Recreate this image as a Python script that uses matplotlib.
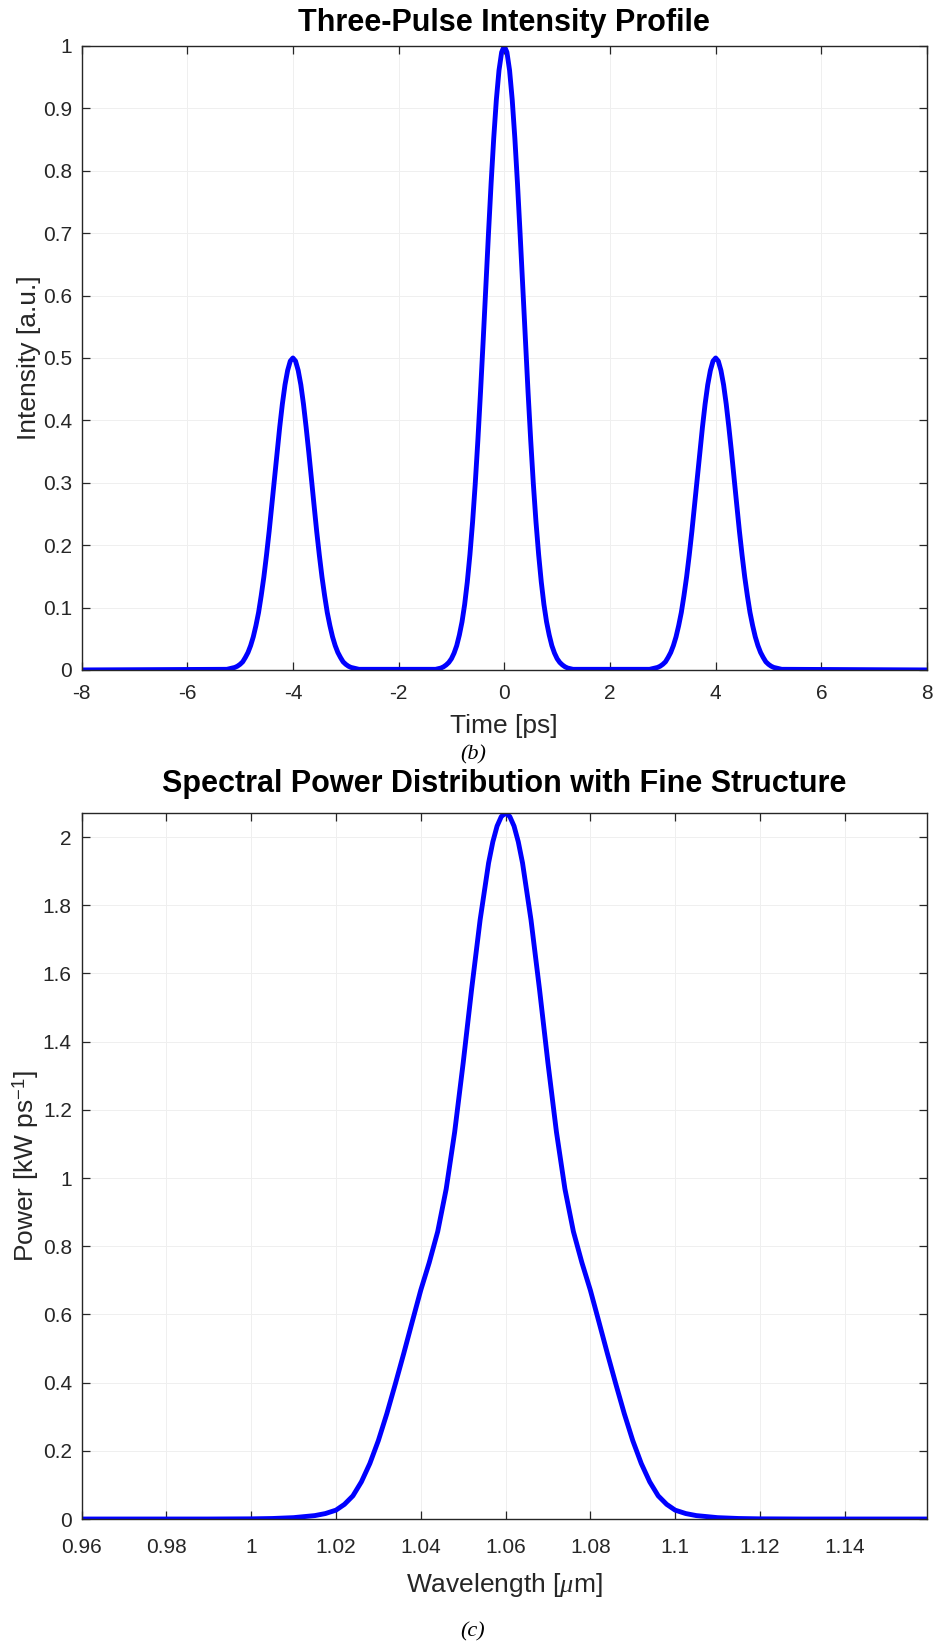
import matplotlib
matplotlib.use("Agg")
import matplotlib.pyplot as plt
from matplotlib.ticker import FuncFormatter

# three-pulse intensity (0.05 ps spacing around each pulse)
time_ps = [-8.0,
           -5.3, -5.25, -5.2, -5.15, -5.1, -5.05, -5.0, -4.95, -4.9, -4.85, -4.8, -4.75, -4.7,
           -4.65, -4.6, -4.55, -4.5, -4.45, -4.4, -4.35, -4.3, -4.25, -4.2, -4.15, -4.1, -4.05,
           -4.0,
           -3.95, -3.9, -3.85, -3.8, -3.75, -3.7, -3.65, -3.6, -3.55, -3.5, -3.45, -3.4, -3.35,
           -3.3, -3.25, -3.2, -3.15, -3.1, -3.05, -3.0, -2.95, -2.9, -2.85, -2.8, -2.75, -2.7,
           -1.3, -1.25, -1.2, -1.15, -1.1, -1.05, -1.0, -0.95, -0.9, -0.85, -0.8, -0.75, -0.7,
           -0.65, -0.6, -0.55, -0.5, -0.45, -0.4, -0.35, -0.3, -0.25, -0.2, -0.15, -0.1, -0.05,
           0.0,
           0.05, 0.1, 0.15, 0.2, 0.25, 0.3, 0.35, 0.4, 0.45, 0.5, 0.55, 0.6, 0.65,
           0.7, 0.75, 0.8, 0.85, 0.9, 0.95, 1.0, 1.05, 1.1, 1.15, 1.2, 1.25, 1.3,
           2.7, 2.75, 2.8, 2.85, 2.9, 2.95, 3.0, 3.05, 3.1, 3.15, 3.2, 3.25, 3.3,
           3.35, 3.4, 3.45, 3.5, 3.55, 3.6, 3.65, 3.7, 3.75, 3.8, 3.85, 3.9, 3.95,
           4.0,
           4.05, 4.1, 4.15, 4.2, 4.25, 4.3, 4.35, 4.4, 4.45, 4.5, 4.55, 4.6, 4.65,
           4.7, 4.75, 4.8, 4.85, 4.9, 4.95, 5.0, 5.05, 5.1, 5.15, 5.2, 5.25, 5.3,
           8.0]
intensity = [0.0,
             0.001, 0.001, 0.002, 0.003, 0.004, 0.006, 0.009, 0.013, 0.020, 0.028, 0.039, 0.053, 0.071,
             0.092, 0.119, 0.149, 0.184, 0.222, 0.264, 0.306, 0.349, 0.389, 0.426, 0.457, 0.480, 0.495,
             0.500,
             0.495, 0.480, 0.457, 0.426, 0.389, 0.349, 0.306, 0.264, 0.222, 0.184, 0.149, 0.119, 0.092,
             0.071, 0.053, 0.039, 0.028, 0.020, 0.013, 0.009, 0.006, 0.004, 0.003, 0.002, 0.001, 0.001,
             0.001, 0.002, 0.003, 0.005, 0.008, 0.012, 0.018, 0.027, 0.039, 0.056, 0.077, 0.105, 0.141,
             0.185, 0.237, 0.298, 0.368, 0.445, 0.527, 0.613, 0.698, 0.779, 0.852, 0.914, 0.961, 0.990,
             1.000,
             0.990, 0.961, 0.914, 0.852, 0.779, 0.698, 0.613, 0.527, 0.445, 0.368, 0.298, 0.237, 0.185,
             0.141, 0.105, 0.077, 0.056, 0.039, 0.027, 0.018, 0.012, 0.008, 0.005, 0.003, 0.002, 0.001,
             0.001, 0.001, 0.002, 0.003, 0.004, 0.006, 0.009, 0.013, 0.020, 0.028, 0.039, 0.053, 0.071,
             0.092, 0.119, 0.149, 0.184, 0.222, 0.264, 0.306, 0.349, 0.389, 0.426, 0.457, 0.480, 0.495,
             0.500,
             0.495, 0.480, 0.457, 0.426, 0.389, 0.349, 0.306, 0.264, 0.222, 0.184, 0.149, 0.119, 0.092,
             0.071, 0.053, 0.039, 0.028, 0.020, 0.013, 0.009, 0.006, 0.004, 0.003, 0.002, 0.001, 0.001,
             0.0]

# spectral power with shoulders near 1.04 and 1.08 um
wavelength_um = [0.96, 0.99, 1.00, 1.005, 1.01, 1.015, 1.0175,
                 1.020, 1.022, 1.024, 1.026, 1.028, 1.030, 1.032, 1.034, 1.036, 1.038,
                 1.040, 1.042, 1.044, 1.046, 1.048, 1.050, 1.052, 1.054, 1.056, 1.057,
                 1.058, 1.059, 1.060, 1.061, 1.062, 1.063,
                 1.064, 1.066, 1.068, 1.070, 1.072, 1.074, 1.076, 1.078, 1.080,
                 1.082, 1.084, 1.086, 1.088, 1.090, 1.092, 1.094, 1.096, 1.098, 1.100,
                 1.1025, 1.105, 1.11, 1.115, 1.12, 1.13, 1.1594]
power = [0.0, 0.0, 0.0005, 0.0015, 0.004, 0.010, 0.016,
         0.026, 0.043, 0.068, 0.109, 0.163, 0.230, 0.309, 0.396, 0.486, 0.579,
         0.671, 0.752, 0.843, 0.968, 1.135, 1.337, 1.554, 1.757, 1.924, 1.986,
         2.032, 2.060, 2.070, 2.060, 2.032, 1.986,
         1.924, 1.757, 1.554, 1.337, 1.135, 0.968, 0.843, 0.752, 0.671,
         0.579, 0.486, 0.396, 0.309, 0.230, 0.163, 0.109, 0.068, 0.043, 0.026,
         0.016, 0.010, 0.004, 0.0015, 0.0005, 0.0, 0.0]

time_ticks = [-8, -6, -4, -2, 0, 2, 4, 6, 8]
intensity_ticks = [0, 0.1, 0.2, 0.3, 0.4, 0.5, 0.6, 0.7, 0.8, 0.9, 1]
wl_ticks = [0.96, 0.98, 1.0, 1.02, 1.04, 1.06, 1.08, 1.1, 1.12, 1.14]
power_ticks = [0, 0.2, 0.4, 0.6, 0.8, 1.0, 1.2, 1.4, 1.6, 1.8, 2.0]

plt.rcParams['font.family'] = ['Liberation Sans', 'DejaVu Sans']
plt.rcParams['mathtext.fontset'] = 'custom'
plt.rcParams['mathtext.rm'] = 'Liberation Sans'
plt.rcParams['mathtext.it'] = 'Liberation Serif:italic'

dark = '#262626'
fig = plt.figure(figsize=(9.33, 16.42), dpi=100)
ax1 = fig.add_axes([0.0874, 0.5920, 0.9062, 0.3800])
ax2 = fig.add_axes([0.0874, 0.0749, 0.9062, 0.4301])

g = lambda v, pos: '%g' % v

for ax in (ax1, ax2):
  ax.grid(True, color='#efefef', linewidth=0.7)
  ax.set_axisbelow(True)
  ax.tick_params(direction='in', top=True, right=True, length=6, width=0.9,
                 colors=dark, labelsize=15)
  ax.tick_params(axis='y', pad=7)
  for s in ax.spines.values():
    s.set_color(dark)
    s.set_linewidth(1.0)
  ax.yaxis.set_major_formatter(FuncFormatter(g))
  ax.xaxis.set_major_formatter(FuncFormatter(g))

ax1.plot(time_ps, intensity, color='#0000ff', linewidth=3.5, solid_joinstyle='round')
ax1.set_xlim(-8, 8)
ax1.set_ylim(0, 1)
ax1.set_xticks(time_ticks)
ax1.set_yticks(intensity_ticks)
ax1.tick_params(axis='x', pad=10)
ax1.set_title('Three-Pulse Intensity Profile', fontsize=22, fontweight='bold', pad=11)
ax1.set_xlabel('Time [ps]', fontsize=19, color=dark, labelpad=8)
ax1.set_ylabel('Intensity [a.u.]', fontsize=19, color=dark)
ax1.yaxis.set_label_coords(-0.048, 0.5)

ax2.plot(wavelength_um, power, color='#0000ff', linewidth=3.5, solid_joinstyle='round')
ax2.set_xlim(0.96, 1.1594)
ax2.set_ylim(0, 2.071)
ax2.set_xticks(wl_ticks)
ax2.set_yticks(power_ticks)
ax2.tick_params(axis='x', pad=14)
ax2.set_title('Spectral Power Distribution with Fine Structure', fontsize=22,
              fontweight='bold', pad=15)
ax2.set_xlabel(r'Wavelength [$\mu$m]', fontsize=19, color=dark, labelpad=10)
ax2.set_ylabel(r'Power [kW ps$^{-1}$]', fontsize=19, color=dark)
ax2.yaxis.set_label_coords(-0.048, 0.5)

fig.text(0.507, 1 - 755 / 1642, '(b)', fontsize=16, style='italic',
         family='Liberation Serif', ha='center', va='center')
fig.text(0.507, 1 - 1632 / 1642, '(c)', fontsize=16, style='italic',
         family='Liberation Serif', ha='center', va='center')

fig.savefig('out.png', dpi=100)
